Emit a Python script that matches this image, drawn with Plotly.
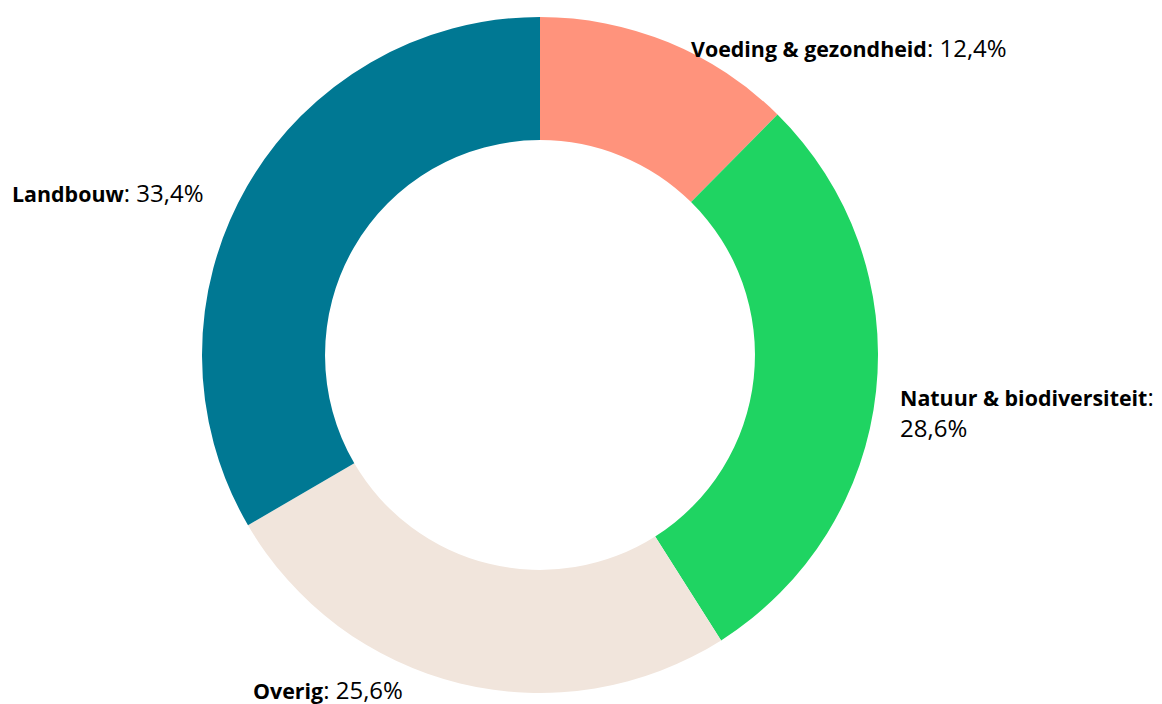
import plotly.graph_objects as go

categories = ["Voeding & gezondheid", "Natuur & biodiversiteit", "Overig", "Landbouw"]
values = [12.4, 28.6, 25.6, 33.4]
value_labels = ["12,4%", "28,6%", "25,6%", "33,4%"]
colors = ["#FF937C", "#1FD462", "#F1E5DC", "#007893"]

W, H = 1162, 704
OFF = 8  # page body margin

def px_x(v):
    return (v - OFF) / W

def px_y(v):
    return 1 - (v - OFF) / H

fig = go.Figure(go.Pie(
    labels=categories,
    values=values,
    hole=0.636,
    sort=False,
    direction="clockwise",
    rotation=0,
    textinfo="none",
    hoverinfo="label+percent",
    marker=dict(colors=colors, line=dict(width=0)),
    domain=dict(x=[px_x(202), px_x(878)], y=[px_y(693), px_y(17)]),
    showlegend=False,
))

# label placement (page pixels: left x, center y, line break)
label_pos = [(690, 48, False), (899, 412, True), (252, 689, False), (11, 193, False)]
for cat, vl, (px, py, br) in zip(categories, value_labels, label_pos):
    sep = ":<br>" if br else ": "
    fig.add_annotation(
        x=px_x(px), y=px_y(py), xref="paper", yref="paper",
        xanchor="left", yanchor="middle", align="left",
        text=f"<b><span style='font-size:21.4px'>{cat}</span></b>{sep}{vl}", showarrow=False,
        font=dict(family="Open Sans", size=24, color="#000000"),
        borderpad=0,
    )

fig.update_layout(
    width=W, height=H,
    margin=dict(l=0, r=0, t=0, b=0),
    paper_bgcolor="white", plot_bgcolor="white",
)
fig.write_html("out.html")
